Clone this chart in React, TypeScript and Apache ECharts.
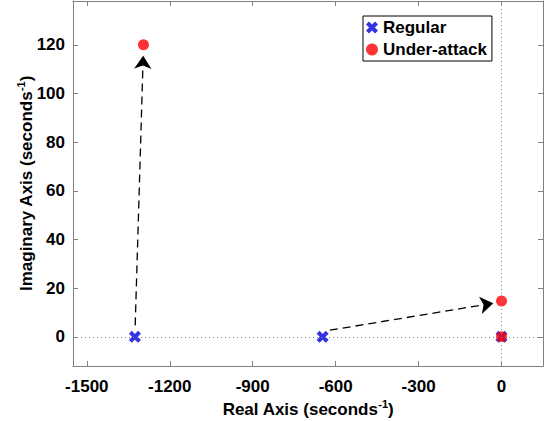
import React, { useEffect, useRef } from "react";
import * as echarts from "echarts";

const xTicks = [-1500, -1200, -900, -600, -300, 0];
const yTicks = [0, 20, 40, 60, 80, 100, 120];
const regularPoints = [
  [-1326, 0],
  [-647, 0],
  [0, 0],
];
const attackPoints = [
  [-1295, 120],
  [0, 14.7],
  [0, 0],
];
const arrowStarts = [
  [-1325, 4.7],
  [-621, 2.7],
];
const arrowEnds = [
  [-1296, 115.5],
  [-30, 13.8],
];

const X_PATH =
  "path://M0,2.4 L2.4,0 L5,2.6 L7.6,0 L10,2.4 L7.4,5 L10,7.6 L7.6,10 L5,7.4 L2.4,10 L0,7.6 L2.6,5 Z";
const FONT = "Liberation Sans, Arial, Helvetica, sans-serif";
const AXIS_GRAY = "#7f7f7f";

export default function App() {
  const ref = useRef<HTMLDivElement>(null);
  useEffect(() => {
    if (!ref.current) return;
    const chart = echarts.init(ref.current, null, { renderer: "svg" });
    const nameRich = {
      n: { fontSize: 17, fontWeight: "bold", fontFamily: FONT, color: "#000", lineHeight: 20, verticalAlign: "bottom" },
      s: { fontSize: 11, fontWeight: "bold", fontFamily: FONT, color: "#000", lineHeight: 12, verticalAlign: "top" },
    };
    const xBase = {
      type: "value",
      min: -1550,
      max: 150,
      splitLine: { show: false },
      axisLine: { show: true, onZero: false, lineStyle: { color: AXIS_GRAY, width: 1 } },
      axisTick: { show: true, inside: true, length: 5, customValues: xTicks, lineStyle: { color: AXIS_GRAY } },
    };
    const yBase = {
      type: "value",
      min: -12,
      max: 138,
      splitLine: { show: false },
      axisLine: { show: true, onZero: false, lineStyle: { color: AXIS_GRAY, width: 1 } },
      axisTick: { show: true, inside: true, length: 5, customValues: yTicks, lineStyle: { color: AXIS_GRAY } },
    };
    const fmt = (v: number) => String(v);
    chart.setOption({
      animation: false,
      backgroundColor: "#fff",
      grid: { left: 73, right: 2, top: 1, bottom: 55, containLabel: false, outerBoundsMode: "none" },
      legend: {
        orient: "vertical",
        left: 363,
        top: 16,
        padding: [2, 5, 2, 3],
        itemGap: 3,
        itemWidth: 12,
        itemHeight: 12,
        borderColor: "#000",
        borderWidth: 1,
        backgroundColor: "#fff",
        textStyle: { fontSize: 17, fontWeight: "bold", fontFamily: FONT, color: "#000", lineHeight: 19 },
        data: [
          { name: "Regular", icon: X_PATH },
          { name: "Under-attack", icon: "circle" },
        ],
      },
      xAxis: [
        {
          ...xBase,
          position: "bottom",
          name: "{n|Real Axis (seconds}{s|-1}{n|)}",
          nameLocation: "middle",
          nameGap: 32,
          nameMoveOverlap: false,
          nameTextStyle: { rich: nameRich },
          axisLabel: {
            show: true,
            customValues: xTicks,
            formatter: fmt,
            margin: 12,
            fontSize: 17,
            fontWeight: "bold",
            fontFamily: FONT,
            color: "#000",
          },
        },
        { ...xBase, position: "top", axisLabel: { show: false } },
      ],
      yAxis: [
        {
          ...yBase,
          position: "left",
          name: "{n|Imaginary Axis (seconds}{s|-1}{n|)}",
          nameLocation: "middle",
          nameGap: 38,
          nameMoveOverlap: false,
          nameTextStyle: { rich: nameRich },
          axisLabel: {
            show: true,
            customValues: yTicks,
            formatter: fmt,
            margin: 8,
            fontSize: 17,
            fontWeight: "bold",
            fontFamily: FONT,
            color: "#000",
          },
        },
        { ...yBase, position: "right", axisLabel: { show: false } },
      ],
      series: [
        {
          name: "Regular",
          type: "scatter",
          symbol: X_PATH,
          symbolSize: 12,
          itemStyle: { color: "#0000dd" },
          data: regularPoints,
          z: 3,
          markLine: {
            silent: true,
            symbol: "none",
            label: { show: false },
            lineStyle: { type: [1, 3], color: "#888", width: 1 },
            data: [{ xAxis: 0 }, { yAxis: 0 }],
          },
        },
        {
          name: "Under-attack",
          type: "scatter",
          symbol: "circle",
          symbolSize: 11,
          itemStyle: { color: "#ff0000" },
          data: attackPoints,
          z: 4,
          markLine: {
            silent: true,
            symbol: ["none", "arrow"],
            symbolSize: 13,
            label: { show: false },
            lineStyle: { type: [8, 5], color: "#000", width: 1.3 },
            itemStyle: { color: "#000" },
            data: arrowStarts.map((s, i) => [{ coord: s }, { coord: arrowEnds[i] }]),
          },
        },
      ],
    });
    return () => chart.dispose();
  }, []);
  return <div ref={ref} style={{ width: 545, height: 421, position: "absolute", left: 0, top: 0 }} />;
}
